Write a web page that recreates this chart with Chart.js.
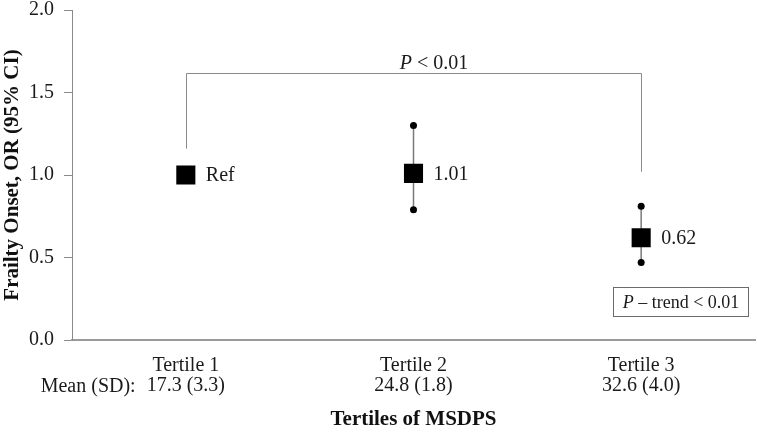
<!DOCTYPE html>
<html><head><meta charset="utf-8">
<script src="https://cdn.jsdelivr.net/npm/chart.js@4.4.1/dist/chart.umd.min.js"></script>
<style>html,body{margin:0;padding:0;background:#fff}#wrap{width:757px;height:433px}</style>
</head><body><div id="wrap"><canvas id="c" width="757" height="433"></canvas></div>
<script>
// ---- data ----
const categories = ['Tertile 1', 'Tertile 2', 'Tertile 3'];
const meanSD = ['17.3 (3.3)', '24.8 (1.8)', '32.6 (4.0)'];
const orValues = [1.00, 1.01, 0.62];
const ciLower = [null, 0.79, 0.47];
const ciUpper = [null, 1.30, 0.81];
const pointLabels = ['Ref', '1.01', '0.62'];
const yTicks = [0.0, 0.5, 1.0, 1.5, 2.0];
const bracketCats = [0, 2];              // categories joined by the bracket
const bracketLevels = [1.16, 1.62, 1.02]; // left end, top, right end
const bracketText = ['P', ' < 0.01'];
const trendText = ['P', ' \u2013 trend < 0.01'];

const serif = "'Liberation Serif','Times New Roman',serif";
const textCol = '#1a1a1a';

function richText(ctx, parts, x, y, size, align) {
  const f0 = 'italic ' + size + 'px ' + serif, f1 = size + 'px ' + serif;
  ctx.font = f0; const w0 = ctx.measureText(parts[0]).width;
  ctx.font = f1; const w1 = ctx.measureText(parts[1]).width;
  let sx = align === 'center' ? x - (w0 + w1) / 2 : x;
  ctx.textAlign = 'left';
  ctx.font = f0; ctx.fillText(parts[0], sx, y);
  ctx.font = f1; ctx.fillText(parts[1], sx + w0, y);
}

const annot = {
  id: 'annot',
  beforeDatasetsDraw(chart) {
    const ctx = chart.ctx, x = chart.scales.x, y = chart.scales.y;
    ctx.save();
    ctx.strokeStyle = '#7a7a7a'; ctx.lineWidth = 1.5;
    categories.forEach((c, i) => {
      if (ciLower[i] == null) return;
      const px = x.getPixelForValue(i);
      ctx.beginPath();
      ctx.moveTo(px, y.getPixelForValue(ciLower[i]));
      ctx.lineTo(px, y.getPixelForValue(ciUpper[i]));
      ctx.stroke();
    });
    // bracket
    ctx.strokeStyle = '#8a8a8a'; ctx.lineWidth = 1;
    const xl = Math.round(x.getPixelForValue(bracketCats[0])) + 0.5;
    const xr = Math.round(x.getPixelForValue(bracketCats[1])) + 0.5;
    const yt = Math.round(y.getPixelForValue(bracketLevels[1])) + 0.5;
    ctx.beginPath();
    ctx.moveTo(xl, y.getPixelForValue(bracketLevels[0]));
    ctx.lineTo(xl, yt);
    ctx.lineTo(xr, yt);
    ctx.lineTo(xr, y.getPixelForValue(bracketLevels[2]));
    ctx.stroke();
    ctx.fillStyle = textCol; ctx.textBaseline = 'alphabetic';
    richText(ctx, bracketText, (xl + xr) / 2 + 20, yt - 5, 20, 'center');
    ctx.restore();
  },
  afterDatasetsDraw(chart) {
    const ctx = chart.ctx, x = chart.scales.x, y = chart.scales.y, ca = chart.chartArea;
    ctx.save();
    ctx.fillStyle = textCol;
    ctx.font = '20px ' + serif;
    ctx.textBaseline = 'middle'; ctx.textAlign = 'left';
    pointLabels.forEach((t, i) => {
      ctx.fillText(t, x.getPixelForValue(i) + 20, y.getPixelForValue(orValues[i]) + 1);
    });
    // P-trend box
    const bx = ca.right - 142, by = ca.bottom - 53, bw = 135, bh = 29;
    ctx.strokeStyle = '#6a6a6a'; ctx.lineWidth = 1;
    ctx.strokeRect(Math.round(bx) + 0.5, Math.round(by) + 0.5, bw, bh);
    ctx.textBaseline = 'alphabetic';
    richText(ctx, trendText, bx + bw / 2 + 0.5, by + 21, 18, 'center');
    // Mean (SD): prefix of second tick line
    ctx.font = '20px ' + serif; ctx.textAlign = 'right';
    const half = ctx.measureText(meanSD[0]).width / 2;
    ctx.fillText('Mean (SD):', x.getPixelForValue(0) - half - 11, x.top + 52);
    ctx.restore();
  }
};

new Chart(document.getElementById('c'), {
  type: 'line',
  data: {
    labels: categories.map((c, i) => [c, meanSD[i]]),
    datasets: [
      { label: 'OR', data: orValues, showLine: false, pointStyle: 'rect',
        pointRadius: 13.5, pointHoverRadius: 13.5, backgroundColor: '#000', borderColor: '#000', borderWidth: 0 },
      { label: 'CI upper', data: ciUpper, showLine: false, pointStyle: 'circle',
        pointRadius: 3.5, pointHoverRadius: 3.5, backgroundColor: '#000', borderColor: '#000', borderWidth: 0 },
      { label: 'CI lower', data: ciLower, showLine: false, pointStyle: 'circle',
        pointRadius: 3.5, pointHoverRadius: 3.5, backgroundColor: '#000', borderColor: '#000', borderWidth: 0 }
    ]
  },
  options: {
    responsive: false, animation: false, devicePixelRatio: 1, events: [],
    layout: { autoPadding: false, padding: { top: 0, right: 2, bottom: 0, left: 0 } },
    plugins: { legend: { display: false }, tooltip: { enabled: false } },
    scales: {
      x: {
        offset: true,
        grid: { display: false, drawTicks: false },
        border: { display: true, color: '#9a9a9a', width: 2 },
        ticks: { color: textCol, font: { family: serif, size: 20, lineHeight: 1.0 }, padding: 16, maxRotation: 0 },
        title: { display: true, text: 'Tertiles of MSDPS', color: '#111',
          font: { family: serif, size: 21, weight: 'bold', lineHeight: 1.2 }, padding: { top: 0, bottom: 1 } },
        afterFit(s) { s.height = 93; s.paddingLeft = 0; s.paddingRight = 0; }
      },
      y: {
        min: 0, max: 2,
        afterBuildTicks(s) { s.ticks = yTicks.map(v => ({ value: v })); },
        grid: { display: true, drawOnChartArea: false, drawTicks: true, tickLength: 8, color: '#8a8a8a' },
        border: { display: true, color: '#8a8a8a', width: 1 },
        ticks: { color: textCol, font: { family: serif, size: 20, lineHeight: 1.0 }, padding: 10,
          callback: v => Number(v).toFixed(1) },
        title: { display: true, text: 'Frailty Onset, OR (95% CI)', color: '#111',
          font: { family: serif, size: 21, weight: 'bold', lineHeight: 1.2 }, padding: 0 },
        afterFit(s) { s.width = 72; s.paddingTop = 10; s.paddingBottom = 10; }
      }
    }
  },
  plugins: [annot]
});
</script></body></html>
